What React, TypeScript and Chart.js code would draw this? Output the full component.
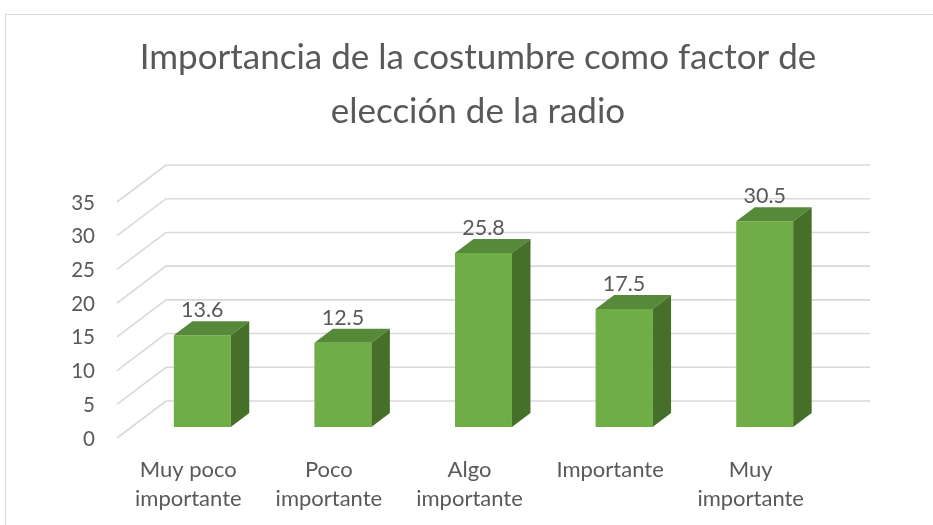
import React, { useEffect, useRef } from "react";
import { Chart, registerables } from "chart.js";

Chart.register(...registerables);

const categories: string[][] = [
  ["Muy poco", "importante"],
  ["Poco", "importante"],
  ["Algo", "importante"],
  ["Importante"],
  ["Muy", "importante"],
];
const values: number[] = [13.6, 12.5, 25.8, 17.5, 30.5];
const titleLines: string[] = ["Importancia de la costumbre como factor de", "elección de la radio"];
const yMin = 0;
const yMax = 35;
const yStep = 5;

const FONT = "Lato, 'Open Sans', sans-serif";
const TEXT = "#595959";
const GRID = "#d9d9d9";
const FRONT = "#70AD47";
const TOP = "#578A38";
const SIDE = "#46702A";
const DX = 18.5;
const DY = 14;

const bg3d = {
  id: "bg3d",
  beforeDraw(chart: any) {
    const { ctx, width, height } = chart;
    ctx.save();
    ctx.fillStyle = "#ffffff";
    ctx.fillRect(0, 0, width, height);
    ctx.strokeStyle = GRID;
    ctx.lineWidth = 1;
    ctx.strokeRect(5.5, 14.5, width + 20, height + 20);
    ctx.restore();
  },
  beforeDatasetsDraw(chart: any) {
    const { ctx, chartArea } = chart;
    const ys = chart.scales.y;
    const frontX = chartArea.left - 15;
    const backX = chartArea.left + 34;
    const endX = chartArea.right + 35;
    ctx.save();
    ctx.strokeStyle = GRID;
    ctx.lineWidth = 1.6;
    ys.ticks.forEach((t: any) => {
      const y = ys.getPixelForValue(t.value);
      ctx.beginPath();
      ctx.moveTo(frontX, y + 11);
      ctx.lineTo(backX, y - 26);
      ctx.lineTo(endX, y - 26);
      ctx.stroke();
    });
    ctx.restore();
  },
  afterDatasetsDraw(chart: any) {
    const { ctx } = chart;
    const meta = chart.getDatasetMeta(0);
    ctx.save();
    meta.data.forEach((bar: any, i: number) => {
      const { x, y, base, width } = bar.getProps(["x", "y", "base", "width"], true);
      const l = x - width / 2;
      const r = x + width / 2;
      ctx.fillStyle = TOP;
      ctx.beginPath();
      ctx.moveTo(l, y);
      ctx.lineTo(l + DX, y - DY);
      ctx.lineTo(r + DX, y - DY);
      ctx.lineTo(r, y);
      ctx.closePath();
      ctx.fill();
      ctx.fillStyle = SIDE;
      ctx.beginPath();
      ctx.moveTo(r, y);
      ctx.lineTo(r + DX, y - DY);
      ctx.lineTo(r + DX, base - DY);
      ctx.lineTo(r, base);
      ctx.closePath();
      ctx.fill();
      ctx.fillStyle = TEXT;
      ctx.font = `21.5px ${FONT}`;
      ctx.textAlign = "center";
      ctx.textBaseline = "middle";
      ctx.fillText(String(values[i]), x, y - 25);
    });
    ctx.restore();
  },
};

export default function App() {
  const ref = useRef<HTMLCanvasElement>(null);
  useEffect(() => {
    document.body.style.margin = "0";
    const chart = new Chart(ref.current!, {
      type: "bar",
      data: {
        labels: categories,
        datasets: [
          {
            data: values,
            backgroundColor: FRONT,
            borderWidth: 0,
            barPercentage: 0.405,
            categoryPercentage: 1,
          },
        ],
      },
      options: {
        responsive: false,
        animation: false,
        layout: { padding: { left: 23, right: 0, top: 0, bottom: 0 } },
        plugins: {
          legend: { display: false },
          tooltip: { enabled: false },
          title: {
            display: true,
            text: titleLines,
            color: TEXT,
            font: { family: FONT, size: 35, weight: "normal", lineHeight: "54px" as any },
            padding: { top: 31, bottom: 52 },
          },
        },
        scales: {
          x: {
            grid: { display: false, drawTicks: false },
            border: { display: false },
            ticks: {
              color: TEXT,
              font: { family: FONT, size: 22, lineHeight: "29px" as any },
              padding: 28,
              labelOffset: -14,
              maxRotation: 0,
              autoSkip: false,
            },
            afterFit(scale: any) {
              scale.height = 98;
            },
          },
          y: {
            min: yMin,
            max: yMax,
            grid: { display: false, drawTicks: false },
            border: { display: false },
            ticks: {
              stepSize: yStep,
              color: TEXT,
              font: { family: FONT, size: 20.5 },
              padding: 37,
              labelOffset: 12,
            },
            afterFit(scale: any) {
              scale.width = 109;
            },
          },
          y2: {
            position: "right",
            display: true,
            grid: { display: false, drawTicks: false },
            border: { display: false },
            ticks: { display: false },
            afterFit(scale: any) {
              scale.width = 98;
            },
          },
        },
      },
      plugins: [bg3d],
    });
    return () => chart.destroy();
  }, []);
  return (
    <div style={{ width: 933, height: 525 }}>
      <canvas ref={ref} width={933} height={525} style={{ width: 933, height: 525, display: "block" }} />
    </div>
  );
}
